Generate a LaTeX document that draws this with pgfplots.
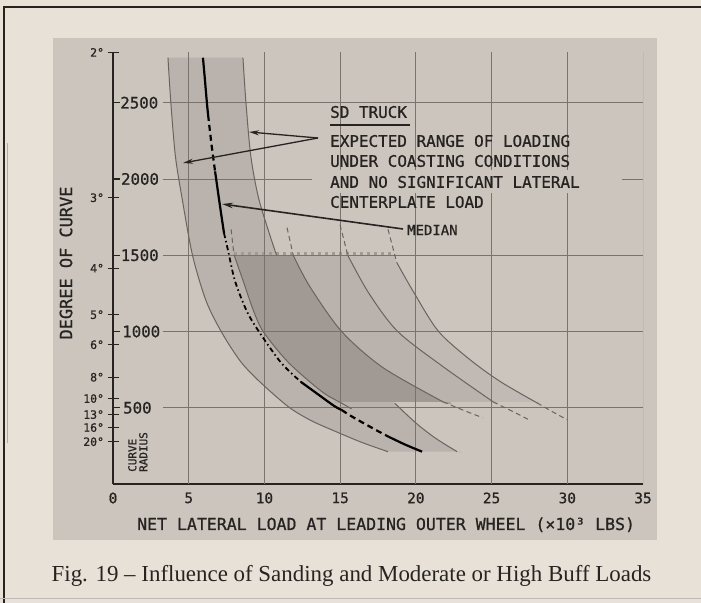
\documentclass[border=0pt]{standalone}
\usepackage{pgfplots}
\pgfplotsset{compat=1.18}
\usetikzlibrary{arrows.meta}
\usepackage{fontspec}
\setmainfont{Liberation Serif}
\newfontfamily\lett[FakeBold=0.8]{DejaVu Sans Mono}
\newcommand\lf[1]{\lett\fontsize{#1}{#1}\selectfont}
\definecolor{page}{HTML}{E8E1D7}
\definecolor{panel}{HTML}{CBC5BE}
\definecolor{bandA}{HTML}{BAB3AD}
\definecolor{bandC}{HTML}{BAB3AD}
\definecolor{bandD}{HTML}{C1BAB4}
\definecolor{darkfill}{HTML}{A19994}
\definecolor{gridc}{HTML}{7A736D}
\definecolor{curvec}{HTML}{6A635E}
\definecolor{ink}{HTML}{262321}
\tikzset{
  gcurve/.style={curvec, line width=1bp, smooth},
  gdash/.style={curvec, line width=1bp, smooth, dash pattern=on 5bp off 3.5bp},
  med/.style={black, line width=2.2bp, smooth},
  meddash/.style={black, line width=2.2bp, smooth, dash pattern=on 6bp off 4bp},
  meddot/.style={black, line width=1.8bp, smooth, dash pattern=on 5bp off 3bp on 1.5bp off 3bp},
}
\begin{document}
\begin{tikzpicture}
\begin{scope}[x=1bp,y=1bp]
\useasboundingbox (0,0) rectangle (701,603);
\fill[page] (0,0) rectangle (701,603);
\fill[panel] (53,63) rectangle (657,565);
\draw[ink, line width=1.3bp] (4,0) -- (4,596) -- (701,596);
\draw[gridc!60, line width=1bp] (7.5,160) -- (7.5,460);
\draw[gridc!50, line width=1.5bp] (0,4.5) -- (701,4.5);
\end{scope}
\begin{axis}[
  at={(113bp,119bp)}, anchor=south west,
  scale only axis, width=530bp, height=431.6bp,
  xmin=0, xmax=35, ymin=0, ymax=2830,
  axis x line*=bottom, axis y line*=left,
  axis line style={ink, line width=2.6bp, -},
  xtick={0,5,10,15,20,25,30,35},
  xticklabels={0,5,10,15,20,25,30,35},
  xticklabel style={font=\lf{14.5}, text=ink, yshift=-5bp},
  x tick style={draw=none},
  ytick={500,1000,1500,2000,2500},
  yticklabels={},
  ytick align=inside,
  y tick style={ink, line width=1.1bp},
  major tick length=7bp,
  extra y ticks={277,370,455,560,700,913,1110,1415,1877,2830},
  extra y tick labels={20°,16°,13°,10°,8°,6°,5°,4°,3°,2°},
  extra y tick style={tick align=center, major tick length=11bp,
     yticklabel style={font=\lf{11.5}, text=ink}},
]
% band A: coasting range (left edge down, right edge up)
\addplot[fill=bandA, draw=none, smooth] coordinates {(3.63,2795) (3.82,2500) (4.12,2150) (4.55,1880) (5.25,1500) (6.15,1200) (7.2,990) (8.45,800) (9.75,665) (11.6,505) (13.1,415) (14.8,340) (16.5,270) (18.16,212) (18.16,212) (22.72,212) (22.72,212) (21.3,300) (20.0,400) (18.6,530) (17.2,640) (15.2,820) (13.2,1060) (11.7,1300) (10.8,1500) (10.3,1650) (9.6,1880) (9.1,2150) (8.78,2500) (8.58,2795)};
% band between R2 and C3
\addplot[fill=bandC, draw=none, smooth] coordinates {(11.9,1500) (13.0,1294) (15.1,1000) (17.83,763) (21.79,539) (21.79,539) (25.1,539) (25.1,539) (21.8,769) (18.8,1000) (16.9,1250) (15.5,1500)};
% band between C3 and C4
\addplot[fill=bandD, draw=none, smooth] coordinates {(15.5,1500) (16.9,1250) (18.8,1000) (21.8,769) (25.1,539) (25.1,539) (27.95,539) (27.95,539) (25.6,670) (23.6,813) (21.5,1000) (19.9,1250) (18.75,1450) (18.62,1500)};
% dark region between L2 and R2
\addplot[fill=darkfill, draw=none, smooth] coordinates {(8.0,1500) (8.6,1330) (9.3,1130) (9.95,995) (11.6,795) (13.8,605) (14.95,539) (14.95,539) (21.79,539) (21.79,539) (17.83,763) (15.1,1000) (13.0,1294) (11.9,1500)};
\draw[darkfill, line width=3bp, dash pattern=on 3bp off 4bp] (axis cs:8.0,1512) -- (axis cs:18.6,1512);
% grid
\pgfplotsinvokeforeach{5,10,15,20,25,30,35}{\draw[gridc, line width=0.9bp] (axis cs:#1,0) -- (axis cs:#1,2830);}
\pgfplotsinvokeforeach{500,1000,1500,2000,2500}{\draw[gridc, line width=0.9bp] (axis cs:3.3,#1) -- (axis cs:35,#1);}
% visible curves
\addplot[gcurve] coordinates {(3.63,2795) (3.82,2500) (4.12,2150) (4.55,1880) (5.25,1500) (6.15,1200) (7.2,990) (8.45,800) (9.75,665) (11.6,505) (13.1,415) (14.8,340) (16.5,270) (18.16,212)};
\addplot[gcurve] coordinates {(8.58,2795) (8.78,2500) (9.1,2150) (9.6,1880) (10.3,1650) (10.8,1500)};
\addplot[gcurve] coordinates {(18.6,530) (20.0,400) (21.3,300) (22.72,212)};
\addplot[gdash] coordinates {(7.8,1670) (7.9,1580) (8.0,1500)};
\addplot[gcurve] coordinates {(8.0,1500) (8.6,1330) (9.3,1130) (9.95,995) (11.6,795) (13.8,605) (15.1,530) (15.75,493)};
\addplot[gdash] coordinates {(11.49,1681) (11.7,1590) (11.9,1500)};
\addplot[gcurve] coordinates {(11.9,1500) (13.0,1294) (15.1,1000) (17.83,763) (21.79,539)};
\addplot[gdash] coordinates {(21.79,539) (23.1,485) (24.4,435)};
\addplot[gdash] coordinates {(14.99,1700) (15.25,1600) (15.5,1500)};
\addplot[gcurve] coordinates {(15.5,1500) (16.9,1250) (18.8,1000) (21.8,769) (25.1,539)};
\addplot[gdash] coordinates {(25.1,539) (26.4,475) (27.6,415)};
\addplot[gdash] coordinates {(18.16,1670) (18.45,1560) (18.75,1450)};
\addplot[gcurve] coordinates {(18.75,1450) (19.9,1250) (21.5,1000) (23.6,813) (25.6,670) (28.0,532)};
\addplot[gdash] coordinates {(28.0,532) (29.0,475) (30.0,421)};
% median
\addplot[med] coordinates {(5.94,2795) (6.07,2650) (6.2,2500) (6.28,2420)};
\addplot[meddash] coordinates {(6.28,2420) (6.5,2230) (6.74,2050)};
\addplot[med] coordinates {(6.74,2050) (7.07,1820) (7.33,1645)};
\addplot[meddot] coordinates {(7.33,1645) (7.6,1530) (8.06,1330) (8.85,1130) (9.7,990) (11.1,795) (12.4,670)};
\addplot[med] coordinates {(12.4,670) (13.4,598) (14.6,512) (15.1,485)};
\addplot[meddash] coordinates {(15.1,485) (15.85,438) (17.4,352) (18.2,310)};
\addplot[med] coordinates {(18.2,310) (19.3,258) (20.41,212)};
% y tick numbers
\node[anchor=west, inner sep=0pt, font=\lf{15.8}, text=ink] at (axis cs:0.47,2500) {2500};
\node[anchor=west, inner sep=0pt, font=\lf{15.8}, text=ink] at (axis cs:0.52,2000) {2000};
\node[anchor=west, inner sep=0pt, font=\lf{15.8}, text=ink] at (axis cs:0.5,1500) {1500};
\node[anchor=west, inner sep=0pt, font=\lf{15.8}, text=ink] at (axis cs:0.6,1000) {1000};
\node[anchor=west, inner sep=0pt, font=\lf{15.8}, text=ink] at (axis cs:0.66,500) {500};
\end{axis}
\begin{scope}[x=1bp,y=1bp]
\fill[panel] (312,410) rectangle (622,433);
\node[anchor=base west, inner sep=0pt, font=\lf{16}, text=ink] at (330,485.2) {SD TRUCK};
\draw[ink, line width=1.1bp] (330,478) -- (410,478);
\node[anchor=base west, inner sep=0pt, font=\lf{16}, text=ink] at (330,456.2) {EXPECTED RANGE OF LOADING};
\node[anchor=base west, inner sep=0pt, font=\lf{16}, text=ink] at (330,436.2) {UNDER COASTING CONDITIONS};
\node[anchor=base west, inner sep=0pt, font=\lf{16}, text=ink] at (330,415.2) {AND NO SIGNIFICANT LATERAL};
\node[anchor=base west, inner sep=0pt, font=\lf{16}, text=ink] at (330,395.2) {CENTERPLATE LOAD};
\node[anchor=base west, inner sep=0pt, font=\lf{14}, text=ink] at (407,367.9) {MEDIAN};
\draw[ink, line width=1.3bp, -{Stealth[length=10bp,width=5bp]}] (318,465) -- (249,471);
\draw[ink, line width=1.3bp, -{Stealth[length=10bp,width=5bp]}] (318,465) -- (183,440);
\draw[ink, line width=1.6bp, -{Stealth[length=11bp,width=5.5bp]}] (403,374) -- (222,399);
\node[anchor=base west, inner sep=0pt, font=\lf{16.6}, text=ink] at (137,73) {NET LATERAL LOAD AT LEADING OUTER WHEEL (×10³ LBS)};
\node[rotate=90, inner sep=0pt, font=\lf{17}, text=ink] at (66,340) {DEGREE OF CURVE};
\node[rotate=90, anchor=north west, inner sep=0pt, align=left, font=\lf{11}, text=ink] at (128,131) {CURVE\\RADIUS};
\node[anchor=base, inner sep=0pt, font=\fontsize{23}{23}\selectfont, text=ink] at (351.5,21) {Fig. 19 -- Influence of Sanding and Moderate or High Buff Loads};
\end{scope}
\end{tikzpicture}
\end{document}
